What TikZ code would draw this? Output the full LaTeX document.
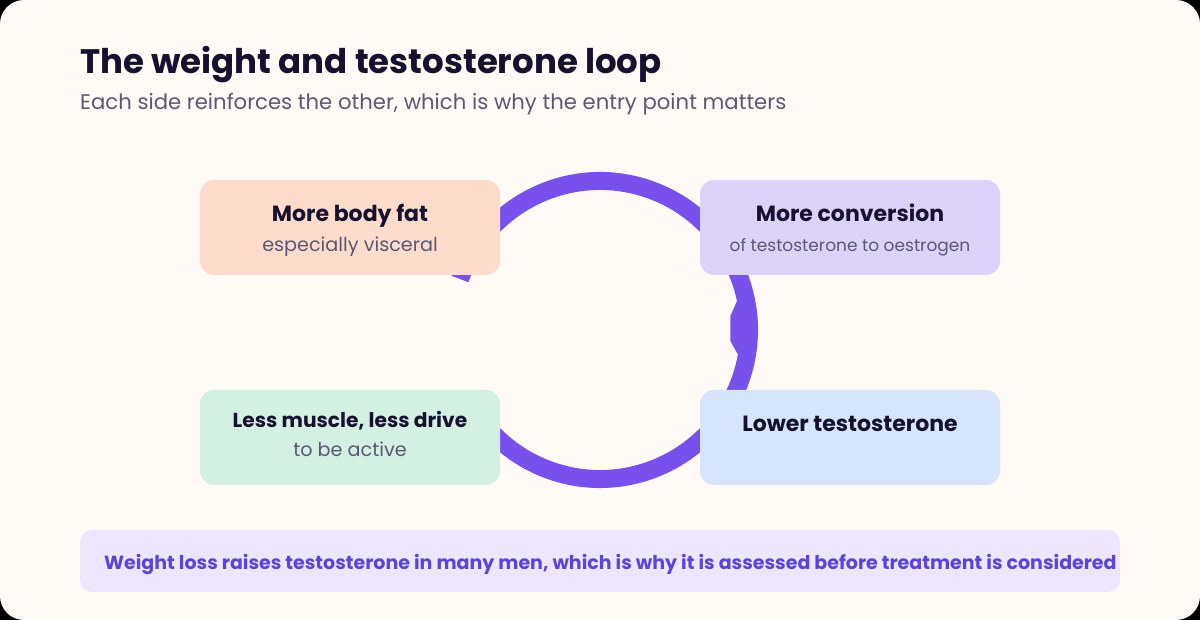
\documentclass[tikz,border=0pt]{standalone}
\usepackage{fontspec}
\setmainfont{Poppins}
\usetikzlibrary{positioning,calc}
\definecolor{LoopPaper}{HTML}{FFFAF5}
\definecolor{LoopInk}{HTML}{15112F}
\definecolor{LoopMuted}{HTML}{5B5873}
\definecolor{LoopViolet}{HTML}{7851EC}
\definecolor{LoopPeach}{HTML}{FEDCCB}
\definecolor{LoopLilac}{HTML}{DCD3FA}
\definecolor{LoopMint}{HTML}{D3F0E3}
\definecolor{LoopSky}{HTML}{D6E5FC}
\definecolor{LoopNote}{HTML}{ECE7FE}
\definecolor{LoopNoteInk}{HTML}{5B45D8}
\tikzset{
  loop/box/.style={
    rounded corners=14pt, minimum width=300pt, minimum height=95pt,
    inner sep=0pt
  },
  loop/head/.style={
    font=\fontsize{22}{26}\selectfont\bfseries, text=LoopInk,
    anchor=base, inner sep=0pt
  },
  loop/sub/.style={
    font=\fontsize{19.2}{23}\selectfont, text=LoopMuted,
    anchor=base, inner sep=0pt
  },
  loop/ring/.style={draw=LoopViolet, line width=18pt},
  loop/note/.style={
    fill=LoopNote, rounded corners=12pt, minimum width=1040pt,
    minimum height=62pt, inner sep=0pt
  }
}

\begin{document}
\begin{tikzpicture}[x=1pt,y=1pt]
  \fill[black] (0,0) rectangle (1200,620);
  \fill[LoopPaper,rounded corners=24pt] (0,0) rectangle (1200,620);
  \node[font=\fontsize{34}{40}\selectfont\bfseries,text=LoopInk,anchor=base west,inner sep=0pt]
    (title) at (80,546) {The weight and testosterone loop};
  \node[font=\fontsize{21.2}{25}\selectfont,text=LoopMuted,anchor=base west,inner sep=0pt]
    (subtitle) at (80,510) {Each side reinforces the other, which is why the entry point matters};
  % the loop itself
  \coordinate (hub) at (600,290);
  \draw[loop/ring] ([shift={(160:149)}]hub) arc[start angle=160,end angle=-140,radius=149];
  \fill[LoopViolet,shift={(hub)}] (12:146) -- (12:140) -- (6:131) -- (-5:131)
    -- (-10:140) -- (-10:146) -- cycle;
  % the four stages
  \node[loop/box,fill=LoopPeach] (fat) at (350,392.5) {};
  \node[loop/box,fill=LoopLilac] (conv) at (850,392.5) {};
  \node[loop/box,fill=LoopMint] (muscle) at (350,182.5) {};
  \node[loop/box,fill=LoopSky] (lowt) at (850,182.5) {};
  \node[loop/head] (fathead) at ([yshift=-42pt]fat.north) {More body fat};
  \node[loop/sub] (fatsub) at ([yshift=-30pt]fathead.base) {especially visceral};
  \node[loop/head] (convhead) at ([yshift=-42pt]conv.north) {More conversion};
  \node[loop/sub,font=\fontsize{17}{21}\selectfont] (convsub) at ([yshift=-30pt]convhead.base)
    {of testosterone to oestrogen};
  \node[loop/head,font=\fontsize{20.2}{24}\selectfont\bfseries] (musclehead) at ([yshift=-38pt]muscle.north)
    {Less muscle, less drive};
  \node[loop/sub] (musclesub) at ([yshift=-29pt]musclehead.base) {to be active};
  \node[loop/head] (lowthead) at ([yshift=-42pt]lowt.north) {Lower testosterone};
  % closing note
  \node[loop/note] (note) at (600,59) {};
  \node[font=\fontsize{19}{23}\selectfont\bfseries,text=LoopNoteInk,anchor=base west,inner sep=0pt]
    (notetext) at (104,50)
    {Weight loss raises testosterone in many men, which is why it is assessed before treatment is considered};
\end{tikzpicture}
\end{document}
